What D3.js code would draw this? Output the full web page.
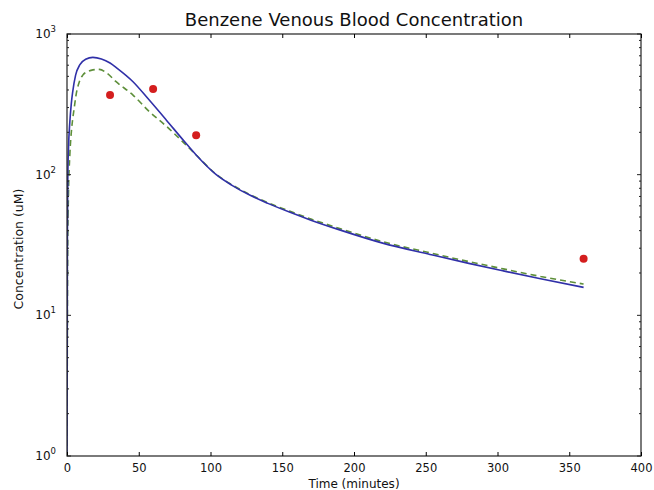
<!DOCTYPE html>
<html><head><meta charset="utf-8">
<script src="https://cdn.jsdelivr.net/npm/d3@7"></script>
<style>body{margin:0;background:#fff;} svg{display:block;} text{font-family:"DejaVu Sans",sans-serif;fill:#111;}</style>
</head><body>
<svg id="c" width="654" height="490"></svg>
<script>
// Model curve 1 (solid blue)
const modelTime1 = [0, 0.3, 0.6, 1, 2, 3, 4, 6, 9, 13, 18, 24, 30, 35, 46, 57, 69, 81, 90, 104, 115, 128, 140, 155, 170, 190, 220, 253, 280, 304, 330, 360];
const modelConc1 = [1, 40, 100, 150, 240, 320, 390, 510, 605, 662, 682, 665, 622, 570, 458, 342, 246, 176, 138, 100, 84, 71, 62.5, 54.2, 47.5, 40.5, 32.6, 27.1, 23.4, 20.7, 18.2, 15.8];
// Model curve 2 (dashed green)
const modelTime2 = [0, 0.5, 1, 2, 3, 4, 5, 6.3, 8.6, 11, 14.4, 18, 22.5, 28, 34, 46, 57, 69, 80, 90, 104, 115, 128, 140, 155, 170, 190, 220, 253, 280, 304, 330, 360];
const modelConc2 = [1, 30, 70, 140, 200, 250, 297, 368, 458, 510, 540, 556, 560, 525, 460, 368, 283, 222, 174, 138, 100.5, 84.7, 71.8, 63.3, 55.1, 48.4, 41.4, 33.4, 27.8, 24.1, 21.4, 18.9, 16.7];
// Observed data (red dots)
const obsTime = [30, 60, 90, 360];
const obsConc = [368, 406, 191, 25.2];
const xTicks = [0, 50, 100, 150, 200, 250, 300, 350, 400];
const yTicks = [1, 10, 100, 1000];

const svg = d3.select("#c");
const L = 67, R = 641, T = 34, B = 456;
const x = d3.scaleLinear().domain([0, 400]).range([L, R]);
const y = d3.scaleLog().domain([1, 1000]).range([B, T]);

svg.append("defs").append("clipPath").attr("id", "clip")
  .append("rect").attr("x", L).attr("y", T).attr("width", R - L).attr("height", B - T);

const g = svg.append("g").attr("clip-path", "url(#clip)");
const line = d3.line().x(d => x(d[0])).y(d => y(d[1])).curve(d3.curveMonotoneX);

g.append("path").datum(modelTime2.map((t, i) => [t, modelConc2[i]]))
  .attr("d", line).attr("fill", "none").attr("stroke", "#5e8f3a").attr("stroke-width", 1.6)
  .attr("stroke-dasharray", "6,4");
g.append("path").datum(modelTime1.map((t, i) => [t, modelConc1[i]]))
  .attr("d", line).attr("fill", "none").attr("stroke", "#3030a8").attr("stroke-width", 1.6);

g.selectAll("circle").data(obsTime.map((t, i) => [t, obsConc[i]])).enter().append("circle")
  .attr("cx", d => x(d[0])).attr("cy", d => y(d[1])).attr("r", 4).attr("fill", "#d41e1e");

// frame
svg.append("rect").attr("x", L).attr("y", T).attr("width", R - L).attr("height", B - T)
  .attr("fill", "none").attr("stroke", "#222").attr("stroke-width", 1.2);

// x ticks (inward, bottom & top)
const axB = d3.axisBottom(x).tickValues(xTicks).tickSizeInner(-4).tickSizeOuter(0).tickPadding(8).tickFormat(d3.format("d"));
const gb = svg.append("g").attr("transform", `translate(0,${B})`).call(axB);
gb.select(".domain").remove();
gb.selectAll("text").attr("font-size", 11.5).style("font-family", "DejaVu Sans");
const axT = d3.axisTop(x).tickValues(xTicks).tickSizeInner(-4).tickSizeOuter(0).tickFormat("");
const gt = svg.append("g").attr("transform", `translate(0,${T})`).call(axT);
gt.select(".domain").remove();

// y ticks major + minor, left & right
const minor = [];
for (let e = 0; e < 3; e++) for (let m = 2; m <= 9; m++) minor.push(m * Math.pow(10, e));
[[L, 1], [R, -1]].forEach(([px, dir]) => {
  svg.append("g").selectAll("line.maj").data(yTicks).enter().append("line")
    .attr("x1", px).attr("x2", px + dir * 4).attr("y1", d => y(d)).attr("y2", d => y(d))
    .attr("stroke", "#222");
  svg.append("g").selectAll("line.min").data(minor).enter().append("line")
    .attr("x1", px).attr("x2", px + dir * 2).attr("y1", d => y(d)).attr("y2", d => y(d))
    .attr("stroke", "#222");
});
const yl = svg.append("g").selectAll("text").data(yTicks).enter().append("text")
  .attr("x", L - 11).attr("y", d => y(d) + 4).attr("text-anchor", "end").attr("font-size", 12);
yl.append("tspan").text("10");
yl.append("tspan").attr("dy", -6).attr("font-size", 8.5).text(d => Math.round(Math.log10(d)));

svg.append("text").attr("x", (L + R) / 2).attr("y", 488).attr("text-anchor", "middle")
  .attr("font-size", 12).text("Time (minutes)");
svg.append("text").attr("transform", `translate(23,${(T + B) / 2 + 4}) rotate(-90)`)
  .attr("text-anchor", "middle").attr("font-size", 12.5).text("Concentration (uM)");
svg.append("text").attr("x", (L + R) / 2).attr("y", 26).attr("text-anchor", "middle")
  .attr("font-size", 18).text("Benzene Venous Blood Concentration");
</script>
</body></html>
